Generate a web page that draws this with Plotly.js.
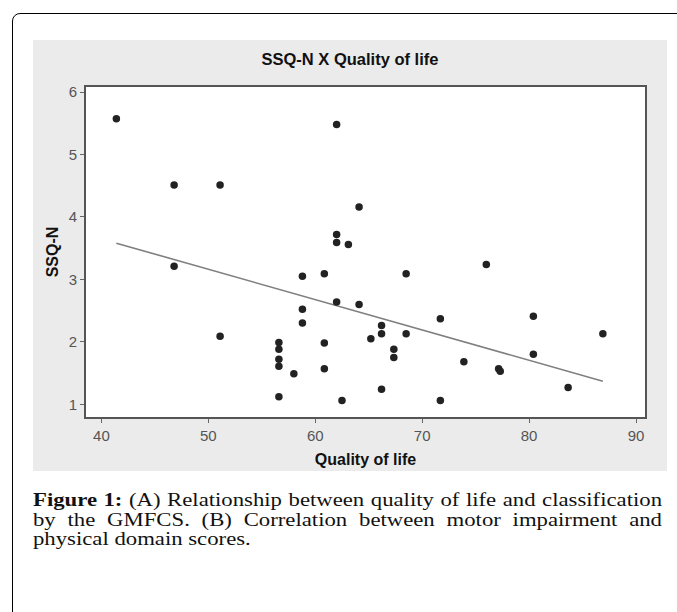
<!DOCTYPE html>
<html>
<head>
<meta charset="utf-8">
<script src="https://cdn.plot.ly/plotly-3.0.1.min.js"></script>
<style>
  html, body { margin: 0; padding: 0; background: #ffffff; width: 677px; height: 612px; overflow: hidden; }
  #frame { position: absolute; left: 12px; top: 13px; width: 720px; height: 700px; border: 1.5px solid #000; border-radius: 8px; box-sizing: border-box; }
  #chart { position: absolute; left: 33px; top: 40px; width: 634px; height: 431px; }
  #caption { position: absolute; left: 33px; top: 491px; width: 512px; font-family: "Liberation Serif", "Times New Roman", serif; font-size: 18.5px; line-height: 19.6px; color: #111; transform: scaleX(1.2285); transform-origin: 0 0; }
  #caption .ln { white-space: nowrap; text-align: justify; text-align-last: justify; }
  #caption .last { white-space: nowrap; text-align: left; }
  #caption b { font-weight: bold; }
</style>
</head>
<body>
<div id="frame"></div>
<div id="chart"></div>
<div id="caption">
  <div class="ln"><b>Figure 1:</b> (A) Relationship between quality of life and classification</div>
  <div class="ln">by the GMFCS. (B) Correlation between motor impairment and</div>
  <div class="last">physical domain scores.</div>
</div>
<script>
// Quality of life (x) and SSQ-N (y)
const qualityOfLife = [41.4, 46.8, 51.1, 62.0, 64.1, 62.0, 62.0, 63.1, 46.8, 76.0,
                       58.8, 60.85, 62.0, 64.1, 58.8, 58.8, 51.1, 56.6, 56.6, 56.6,
                       56.6, 58.0, 60.85, 60.85, 56.6, 62.5, 68.5, 71.7, 80.4, 86.9,
                       66.2, 66.2, 65.2, 68.5, 67.35, 67.35, 73.9, 77.15, 77.3, 80.4,
                       66.2, 71.7, 83.65];
const ssqN = [5.57, 4.51, 4.51, 5.48, 4.16, 3.72, 3.59, 3.56, 3.21, 3.24,
              3.05, 3.09, 2.64, 2.60, 2.52, 2.30, 2.09, 1.99, 1.88, 1.72,
              1.61, 1.49, 1.98, 1.57, 1.12, 1.06, 3.09, 2.37, 2.41, 2.13,
              2.26, 2.13, 2.05, 2.13, 1.88, 1.75, 1.68, 1.57, 1.53, 1.80,
              1.24, 1.06, 1.27];
// Fitted regression line end points
const fitX = [41.4, 86.9];
const fitY = [3.58, 1.37];
const xTicks = [40, 50, 60, 70, 80, 90];
const yTicks = [1, 2, 3, 4, 5, 6];

const font = "Liberation Sans, Arial, sans-serif";

const traces = [
  {
    x: fitX, y: fitY, type: 'scatter', mode: 'lines',
    line: { color: '#7f7f7f', width: 1.6 },
    hoverinfo: 'skip', showlegend: false
  },
  {
    x: qualityOfLife, y: ssqN, type: 'scatter', mode: 'markers',
    marker: { color: '#222222', size: 7.5, symbol: 'circle' },
    showlegend: false
  }
];

const axisCommon = {
  showgrid: false, zeroline: false,
  showline: true, mirror: true, linecolor: '#555555', linewidth: 2,
  ticks: 'outside', ticklen: 4, tickwidth: 1, tickcolor: '#666666',
  tickfont: { family: font, size: 15, color: '#555555' },
  fixedrange: true
};

const layout = {
  width: 634, height: 431,
  margin: { l: 53, r: 22, t: 47, b: 54, pad: 0 },
  paper_bgcolor: '#ebebeb',
  plot_bgcolor: '#ffffff',
  title: {
    text: '<b>SSQ-N X Quality of life</b>',
    font: { family: font, size: 16.5, color: '#111111' },
    x: 0.5, xanchor: 'center', xref: 'container',
    y: 1 - 19 / 431, yanchor: 'middle', yref: 'container'
  },
  xaxis: Object.assign({}, axisCommon, {
    range: [38.56, 90.84],
    tickvals: xTicks, ticktext: xTicks.map(String),
    title: { text: '<b>Quality of life</b>', font: { family: font, size: 16, color: '#111111' }, standoff: 11 }
  }),
  yaxis: Object.assign({}, axisCommon, {
    range: [0.797, 6.08],
    tickvals: yTicks, ticktext: yTicks.map(String),
    title: { text: '<b>SSQ-N</b>', font: { family: font, size: 16, color: '#111111' }, standoff: 6 }
  }),
  showlegend: false
};

Plotly.newPlot('chart', traces, layout, { displayModeBar: false, staticPlot: true });
</script>
</body>
</html>
